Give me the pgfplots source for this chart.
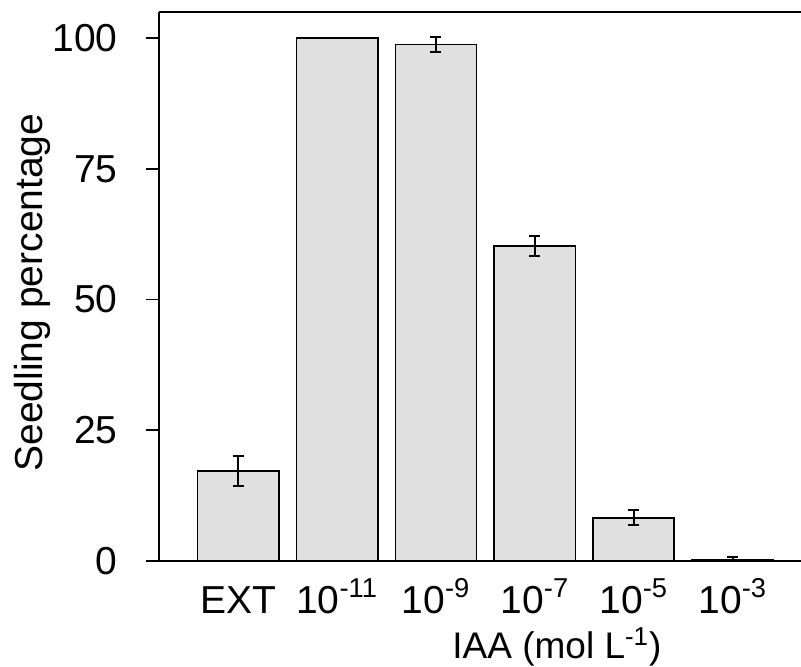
\documentclass[border=0pt]{standalone}
\usepackage{fontspec}
\setmainfont{Liberation Sans}
\usepackage{pgfplots}
\pgfplotsset{compat=1.18}

\definecolor{barfill}{RGB}{224,224,224}

\begin{document}
\begin{tikzpicture}
\begin{axis}[
    scale only axis,
    width=321pt,
    height=274.5pt,
    xmin=-0.8, xmax=5.69,
    ymin=0, ymax=105,
    axis x line*=box,
    axis y line*=left,
    x axis line style={-, line width=0.9pt},
    y axis line style={-, line width=1pt},
    xtick={0,1,2,3,4,5},
    xticklabels={EXT, 10\textsuperscript{-11}, 10\textsuperscript{-9}, 10\textsuperscript{-7}, 10\textsuperscript{-5}, 10\textsuperscript{-3}},
    ytick={0,25,50,75,100},
    major x tick style={draw=none},
    ytick pos=left,
    tick align=outside,
    major tick length=6.5pt,
    major tick style={line width=0.8pt, black},
    /pgf/number format/assume math mode=true,
    tick label style={font=\fontsize{19.5}{22}\selectfont},
    xticklabel style={anchor=base, inner sep=0pt, yshift=-19.5pt},
    yticklabel style={anchor=east, inner sep=0pt, xshift=-14pt},
    ylabel={Seedling percentage},
    every axis y label/.style={at={([xshift=-54pt,yshift=-3pt]axis description cs:0,0.5)}, rotate=90, anchor=south, inner sep=0pt},
    ylabel style={font=\fontsize{19.5}{22}\selectfont},
    xlabel={IAA (mol L\textsuperscript{-1})},
    every axis x label/.style={at={([xshift=146.5pt,yshift=-48.5pt]axis description cs:0,0)}, anchor=base west, inner sep=0pt},
    xlabel style={font=\fontsize{18.5}{21}\selectfont},
    ybar,
    bar width=0.82,
    bar shift=0pt,
]
\addplot[fill=barfill, draw=black, line width=0.9pt,
    error bars/.cd, y dir=both, y explicit,
    error bar style={line width=1pt, black},
    error mark options={rotate=90, mark size=2.75pt, line width=1pt, black}]
coordinates {
    (0,17.2) +- (0,2.8)
    (1,100.0) +- (0,0)
    (2,98.8) +- (0,1.5)
    (3,60.2) +- (0,1.9)
    (4,8.3) +- (0,1.5)
    (5,0.3) +- (0,0.4)
};
\end{axis}
\pgfresetboundingbox
\path (-79.5pt,-53pt) rectangle (321pt,280.5pt);
\end{tikzpicture}
\end{document}
